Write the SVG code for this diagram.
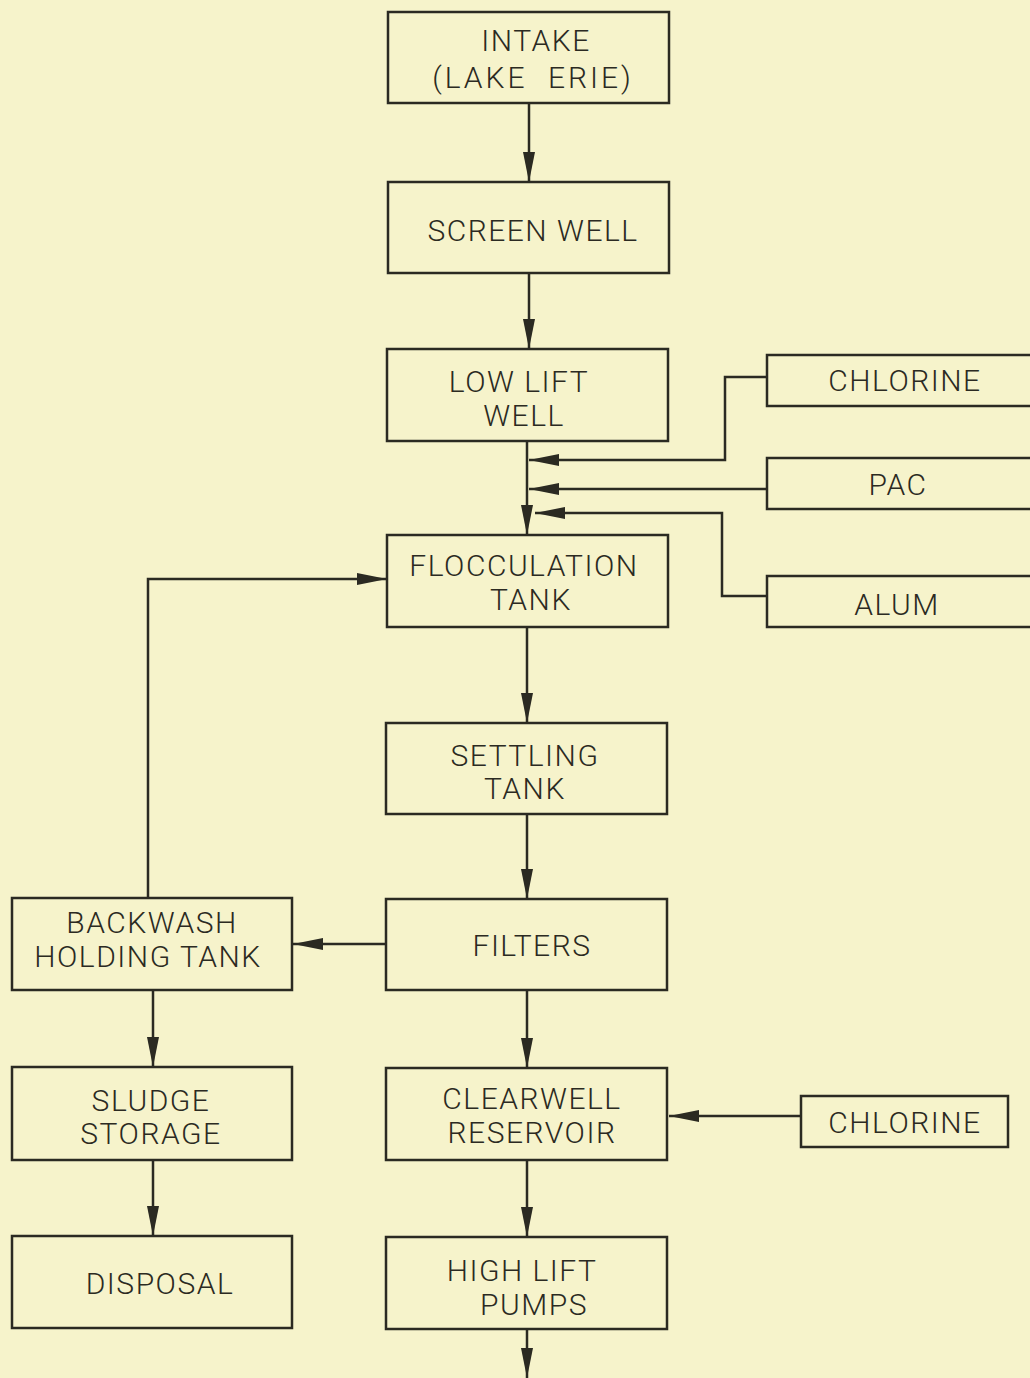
<svg xmlns="http://www.w3.org/2000/svg" width="1030" height="1378" viewBox="0 0 1030 1378">
<style>
.bx{fill:none;stroke:#2b2a22;stroke-width:2.5}
.ln{fill:none;stroke:#2b2a22;stroke-width:2.5}
text{font-family:Roboto,"Liberation Sans",Arial,sans-serif;font-weight:300;font-size:30px;fill:#2b2a22;text-anchor:middle;letter-spacing:1.5px}
</style>
<defs>
<marker id="ah" markerUnits="userSpaceOnUse" markerWidth="30" markerHeight="14" refX="30" refY="7" orient="auto">
<path d="M0,1 L30,7 L0,13 Z" fill="#2b2a22"/>
</marker>
</defs>
<rect width="1030" height="1378" fill="#f6f3cb"/>
<g id="connectors">
<line class="ln" x1="529" y1="103" x2="529" y2="182" marker-end="url(#ah)"/>
<line class="ln" x1="529" y1="273" x2="529" y2="349" marker-end="url(#ah)"/>
<line class="ln" x1="527" y1="441" x2="527" y2="535" marker-end="url(#ah)"/>
<polyline class="ln" points="767,377 725,377 725,460 529,460" marker-end="url(#ah)"/>
<line class="ln" x1="767" y1="489" x2="529" y2="489" marker-end="url(#ah)"/>
<polyline class="ln" points="767,596 722,596 722,513 535,513" marker-end="url(#ah)"/>
<polyline class="ln" points="148,898 148,579 387,579" marker-end="url(#ah)"/>
<line class="ln" x1="527" y1="627" x2="527" y2="723" marker-end="url(#ah)"/>
<line class="ln" x1="527" y1="814" x2="527" y2="899" marker-end="url(#ah)"/>
<line class="ln" x1="386" y1="944" x2="293" y2="944" marker-end="url(#ah)"/>
<line class="ln" x1="153" y1="990" x2="153" y2="1067" marker-end="url(#ah)"/>
<line class="ln" x1="153" y1="1160" x2="153" y2="1236" marker-end="url(#ah)"/>
<line class="ln" x1="527" y1="990" x2="527" y2="1068" marker-end="url(#ah)"/>
<line class="ln" x1="801" y1="1116" x2="669" y2="1116" marker-end="url(#ah)"/>
<line class="ln" x1="527" y1="1160" x2="527" y2="1237" marker-end="url(#ah)"/>
<line class="ln" x1="527" y1="1329" x2="527" y2="1378" marker-end="url(#ah)"/>
</g>
<g id="intake"><rect class="bx" x="388" y="12" width="281" height="91"/><text x="536" y="51">INTAKE</text><text x="533" y="88" style="letter-spacing:3px;word-spacing:10px">(LAKE ERIE)</text></g>
<g id="screen-well"><rect class="bx" x="388" y="182" width="281" height="91"/><text x="533" y="241">SCREEN  WELL</text></g>
<g id="low-lift-well"><rect class="bx" x="387" y="349" width="281" height="92"/><text x="519" y="392">LOW  LIFT</text><text x="524" y="426">WELL</text></g>
<g id="chlorine-1"><rect class="bx" x="767" y="355" width="270" height="51"/><text x="905" y="391">CHLORINE</text></g>
<g id="pac"><rect class="bx" x="767" y="458" width="270" height="51"/><text x="898" y="495">PAC</text></g>
<g id="alum"><rect class="bx" x="767" y="576" width="270" height="51"/><text x="897" y="615">ALUM</text></g>
<g id="flocculation-tank"><rect class="bx" x="387" y="535" width="281" height="92"/><text x="524" y="576">FLOCCULATION</text><text x="531" y="610">TANK</text></g>
<g id="settling-tank"><rect class="bx" x="386" y="723" width="281" height="91"/><text x="525" y="766">SETTLING</text><text x="525" y="799">TANK</text></g>
<g id="filters"><rect class="bx" x="386" y="899" width="281" height="91"/><text x="532" y="956">FILTERS</text></g>
<g id="backwash-holding-tank"><rect class="bx" x="12" y="898" width="280" height="92"/><text x="152" y="933">BACKWASH</text><text x="148" y="967">HOLDING  TANK</text></g>
<g id="sludge-storage"><rect class="bx" x="12" y="1067" width="280" height="93"/><text x="151" y="1111">SLUDGE</text><text x="151" y="1144">STORAGE</text></g>
<g id="disposal"><rect class="bx" x="12" y="1236" width="280" height="92"/><text x="160" y="1294">DISPOSAL</text></g>
<g id="clearwell-reservoir"><rect class="bx" x="386" y="1068" width="281" height="92"/><text x="532" y="1109">CLEARWELL</text><text x="532" y="1143">RESERVOIR</text></g>
<g id="chlorine-2"><rect class="bx" x="801" y="1096" width="207" height="51"/><text x="905" y="1133">CHLORINE</text></g>
<g id="high-lift-pumps"><rect class="bx" x="386" y="1237" width="281" height="92"/><text x="522" y="1281">HIGH  LIFT</text><text x="534" y="1315">PUMPS</text></g>
</svg>
